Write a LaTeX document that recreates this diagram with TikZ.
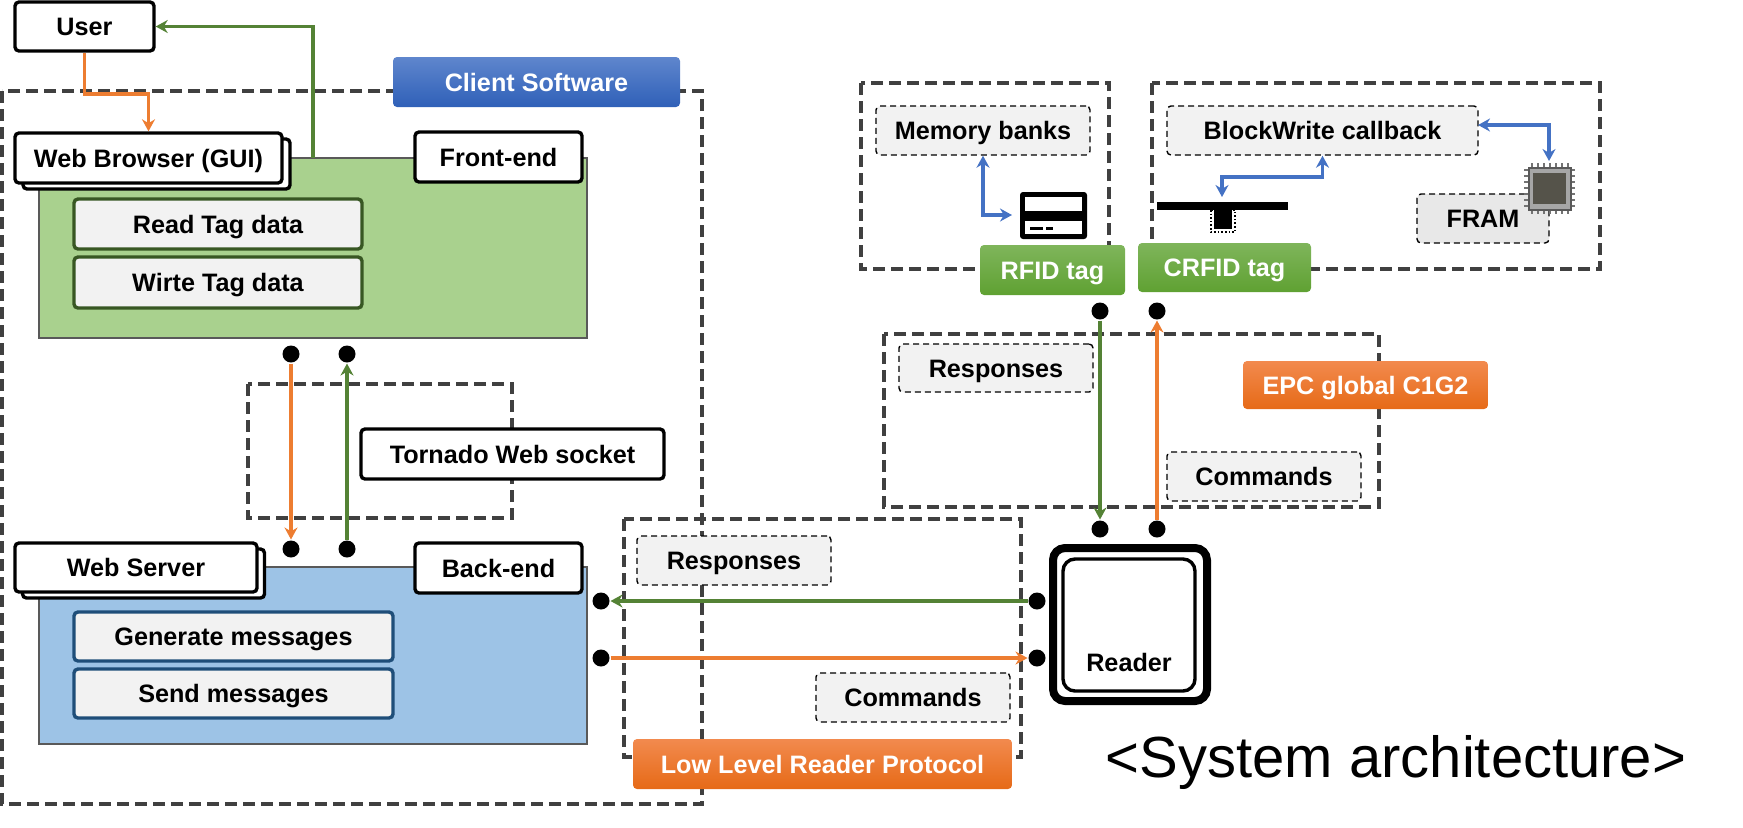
\documentclass[tikz,border=0pt]{standalone}
\usepackage{fontspec}
\setmainfont{Liberation Sans}
\usetikzlibrary{arrows.meta, shapes, positioning}
\definecolor{dashgray}{HTML}{404040}
\definecolor{flowgreen}{HTML}{548235}
\definecolor{floworange}{HTML}{ED7D31}
\definecolor{flowblue}{HTML}{4472C4}
\definecolor{frontfill}{HTML}{A9D18E}
\definecolor{backfill}{HTML}{9DC3E6}
\definecolor{frontedge}{HTML}{385723}
\definecolor{backedge}{HTML}{1F4E79}
\definecolor{bluetop}{HTML}{5F86CD}
\definecolor{bluebot}{HTML}{2F60B8}
\definecolor{orangetop}{HTML}{F28A4E}
\definecolor{orangebot}{HTML}{E66A17}
\definecolor{greentop}{HTML}{7FB55B}
\definecolor{greenbot}{HTML}{5FA132}
\definecolor{chipcore}{HTML}{55534A}

\begin{document}
\begin{tikzpicture}[
        x=0.5pt, y=-0.5pt,
        font=\bfseries\fontsize{12.6}{15}\selectfont,
        label/.style={
          text height=10.6pt,
          text depth=1.6pt,
          inner sep=0pt,
          align=center
        },
        group/.style={draw=dashgray, line width=1.8pt, dash pattern=on 6pt off 3pt},
        plain/.style={label, draw, fill=white, line width=1.7pt, rounded corners=2pt},
        task/.style={label, fill=black!5, line width=1.7pt, rounded corners=2pt},
        note/.style={label, draw, fill=black!5, densely dashed, line width=0.7pt, rounded corners=2pt},
        panel/.style={draw=black!65, line width=0.6pt},
        banner/.style={label, text=white, rounded corners=2pt},
        dot/.style={circle, fill=black, inner sep=0pt, minimum width=8.5pt, minimum height=8.5pt, outer sep=0.5pt},
        flowg/.style={-{Stealth[length=6pt, width=6.5pt]}, line width=1.8pt, draw=flowgreen},
        flowo/.style={-{Stealth[length=6pt, width=6.5pt]}, line width=1.8pt, draw=floworange},
        flowb/.style={{Stealth[length=6pt, width=6.5pt]}-{Stealth[length=6pt, width=6.5pt]}, line width=1.8pt, draw=flowblue}
      ]
      \useasboundingbox (0,0) rectangle (1743,827);

      \draw[group] (2,91) rectangle (702,804);
      \draw[group] (248,384) rectangle (512,518);
      \draw[group] (624,519) rectangle (1021,757);
      \draw[group] (884,334) rectangle (1379,507);
      \draw[group] (861,83) rectangle (1109,269);
      \draw[group] (1152,83) rectangle (1600,269);

      \node[panel, fill=frontfill, minimum width=274pt, minimum height=90pt] (frontpanel) at (313,248) {};
      \node[panel, fill=backfill, minimum width=274pt, minimum height=88.5pt] (backpanel) at (313,655.5) {};

      \node[plain, minimum width=69.5pt, minimum height=24.5pt] (user) at (84.5,26.5) {User};
      \node[plain, minimum width=133.5pt, minimum height=25pt] at (156.5,164) {};
      \node[plain, minimum width=133.5pt, minimum height=25pt] (browser) at (148.5,158) {Web Browser (GUI)};
      \node[plain, minimum width=83.5pt, minimum height=25pt] (front) at (498.5,157) {Front-end};
      \node[task, draw=frontedge, minimum width=144pt, minimum height=25pt] (readtag) at (218,224) {Read Tag data};
      \node[task, draw=frontedge, minimum width=144pt, minimum height=25.5pt] (writetag) at (218,282.5) {Wirte Tag data};
      \node[plain, minimum width=151.5pt, minimum height=25pt] (tornado) at (512.5,454) {Tornado Web socket};
      \node[plain, minimum width=121pt, minimum height=24.5pt] at (143.5,573.5) {};
      \node[plain, minimum width=121pt, minimum height=24.5pt] (server) at (136,567.5) {Web Server};
      \node[plain, minimum width=83.5pt, minimum height=25pt] (back) at (498.5,568) {Back-end};
      \node[task, draw=backedge, minimum width=159.5pt, minimum height=24.5pt] (generate) at (233.5,636.5) {Generate messages};
      \node[task, draw=backedge, minimum width=159.5pt, minimum height=24.5pt] (send) at (233.5,693.5) {Send messages};

      \node[note, minimum width=97pt, minimum height=24.5pt] (llrpresp) at (734,560.5) {Responses};
      \node[note, minimum width=97pt, minimum height=24.5pt] (llrpcmd) at (913,697.5) {Commands};
      \node[note, minimum width=97pt, minimum height=24pt] (epcresp) at (996,368) {Responses};
      \node[note, minimum width=97pt, minimum height=24.5pt] (epccmd) at (1264,476.5) {Commands};
      \node[note, minimum width=107pt, minimum height=24.5pt] (membanks) at (983,130.5) {Memory banks};
      \node[note, minimum width=155.5pt, minimum height=24.5pt] (blockwrite) at (1322.5,130.5) {BlockWrite callback};
      \node[note, fill=black!9, minimum width=66pt, minimum height=24.5pt] (fram) at (1483,218.5) {FRAM};

      \node[banner, top color=bluetop, bottom color=bluebot, minimum width=143.5pt, minimum height=25pt] (client) at (536.5,82) {Client Software};
      \node[banner, top color=orangetop, bottom color=orangebot, minimum width=189.5pt, minimum height=25pt] (llrp) at (822.5,764) {Low Level Reader Protocol};
      \node[banner, top color=orangetop, bottom color=orangebot, minimum width=122.5pt, minimum height=24pt] (epc) at (1365.5,385) {EPC global C1G2};
      \node[banner, top color=greentop, bottom color=greenbot, minimum width=72.5pt, minimum height=25pt] (rfid) at (1052.5,270) {RFID tag};
      \node[banner, top color=greentop, bottom color=greenbot, minimum width=86.5pt, minimum height=24.5pt] (crfid) at (1224.5,267.5) {CRFID tag};

      \node[draw, line width=4pt, rounded corners=6pt, minimum width=77pt, minimum height=76.5pt, inner sep=0pt] (reader) at (1130,624.5) {};
      \node[draw, line width=1.7pt, rounded corners=6pt, minimum width=66pt, minimum height=66pt, inner sep=0pt] (readerin) at (1129,625) {};
      \node[label] (readerlabel) at (1129,662) {Reader};

      \node[fill=black, rounded corners=1.5pt, minimum width=33.5pt, minimum height=23.5pt, inner sep=0pt] (card) at (1053.5,215.5) {};
      \fill[white] (1025,197) rectangle (1082,211);
      \fill[white] (1025,221) rectangle (1082,234);
      \fill[black] (1030,226.5) rectangle (1043,230);
      \fill[black] (1046,226.5) rectangle (1053,230);

      \node[fill=black, minimum width=65.5pt, minimum height=4pt, inner sep=0pt] (tagbar) at (1222.5,206) {};
      \fill[black] (1214,210) rectangle (1232,229);
      \draw[black, densely dotted, line width=0.8pt] (1211,210) rectangle (1235,232);

      \foreach \p in {0,6,...,36} {
        \draw[black!55, line width=1.2pt] (1532+\p,163) -- (1532+\p,214);
        \draw[black!55, line width=1.2pt] (1524,170+\p) -- (1575,170+\p);
      }
      \node[fill=black!35, draw=black!65, line width=1pt, minimum width=21pt, minimum height=21pt, inner sep=0pt] (chip) at (1549.5,188.5) {};
      \fill[chipcore] (1533,173) rectangle (1566,204);

      \node[dot] (dotfa) at (291,354) {};
      \node[dot] (dotfb) at (347,354) {};
      \node[dot] (dotba) at (291,549) {};
      \node[dot] (dotbb) at (347,549) {};
      \node[dot] (dotsa) at (601,601) {};
      \node[dot] (dotsb) at (601,658) {};
      \node[dot] (dotra) at (1037,601) {};
      \node[dot] (dotrb) at (1037,658) {};
      \node[dot] (dotta) at (1100,311) {};
      \node[dot] (dottb) at (1157,311) {};
      \node[dot] (dotua) at (1100,529) {};
      \node[dot] (dotub) at (1157,529) {};

      \coordinate (uplink) at (313,158);
      \coordinate (cardin) at (1012,215);
      \coordinate (tagin) at (1222,197);
      \coordinate (blockout) at (1478,125);
      \coordinate (chipin) at (1549,161);

      \draw[flowo] (user.south) -- ++(0,41) -| (browser.north);
      \draw[flowg] (uplink) |- (user.east);
      \draw[flowo] (dotfa) -- (dotba);
      \draw[flowg] (dotbb) -- (dotfb);
      \draw[flowg] (dotra) -- (dotsa);
      \draw[flowo] (dotsb) -- (dotrb);
      \draw[flowg] (dotta) -- (dotua);
      \draw[flowo] (dotub) -- (dottb);
      \draw[flowb] (membanks.south) |- (cardin);
      \draw[flowb] (blockwrite.south) -- ++(0,21) -| (tagin);
      \draw[flowb] (blockout) -| (chipin);

      \node[font=\fontsize{29}{33}\selectfont, inner sep=0pt] (caption) at (1396,762) {<System architecture>};
    \end{tikzpicture}
\end{document}
